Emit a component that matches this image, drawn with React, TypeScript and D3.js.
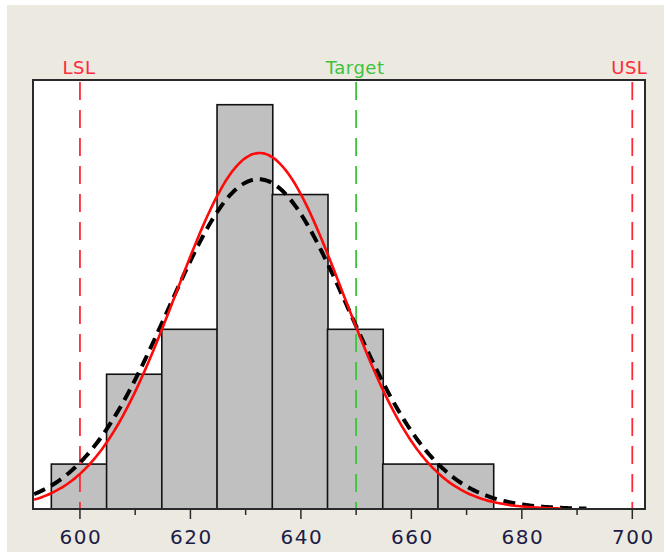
import React, { useRef, useEffect } from 'react';
import { select, scaleLinear, line, curveBasis, range } from 'd3';

const dim = {
  width: 664,
  height: 553,
  left: 33,
  right: 645,
  top: 80,
  bottom: 509,
};

// histogram bins (lower edge) and counts
const binStarts = [595, 605, 615, 625, 635, 645, 655, 665];
const binCounts = [1, 3, 4, 9, 7, 4, 1, 1];
const binWidth = 10;

// spec limits
const specNames = ['LSL', 'Target', 'USL'];
const specValues = [600, 650, 700];
const specColors = ['#ff2a3a', '#3cc23c', '#ff2a3a'];

// fitted normal curves: [mean, stdev, last x drawn]
const withinFit = [632.5, 15.1, 687.5];
const overallFit = [632.3, 16.3, 691.8];

const tickValues = [600, 610, 620, 630, 640, 650, 660, 670, 680, 690, 700];
const tickLabels = ['600', '620', '640', '660', '680', '700'];

const Chart = () => {
  const svgRef = useRef(null);

  useEffect(() => {
    const svg = select(svgRef.current);
    svg.selectAll('*').remove();

    const x = scaleLinear().domain([591.5, 702.3]).range([dim.left, dim.right]);
    const y = scaleLinear().domain([0, 9.55]).range([dim.bottom, dim.top]);
    const total = binCounts.reduce((a, b) => a + b, 0);

    svg.append('rect').attr('width', dim.width).attr('height', dim.height).attr('fill', '#fff');
    svg.append('rect')
      .attr('x', 7).attr('y', 5)
      .attr('width', dim.width - 7).attr('height', dim.height - 6)
      .attr('fill', '#ece9e0');
    svg.append('rect')
      .attr('x', dim.left).attr('y', dim.top)
      .attr('width', dim.right - dim.left).attr('height', dim.bottom - dim.top)
      .attr('fill', '#fff');

    svg.append('g').selectAll('rect')
      .data(binStarts)
      .join('rect')
      .attr('x', (d) => x(d) - 1)
      .attr('y', (_, i) => y(binCounts[i]))
      .attr('width', (d) => x(d + binWidth) - x(d) + 0.5)
      .attr('height', (_, i) => y(0) - y(binCounts[i]))
      .attr('fill', '#c0c0c0')
      .attr('stroke', '#111')
      .attr('stroke-width', 1.6);

    // spec lines
    const spec = svg.append('g');
    specValues.forEach((v, i) => {
      spec.append('line')
        .attr('x1', x(v)).attr('x2', x(v))
        .attr('y1', dim.top + 2).attr('y2', dim.bottom)
        .attr('stroke', specColors[i])
        .attr('stroke-width', 1.8)
        .attr('stroke-dasharray', '18 10');
      spec.append('text')
        .attr('x', x(v) + (i === 2 ? -3 : -1))
        .attr('y', 74)
        .attr('text-anchor', 'middle')
        .attr('fill', specColors[i])
        .style('font', '18px "DejaVu Sans", sans-serif')
        .style('letter-spacing', '0.5px')
        .text(specNames[i]);
    });

    const pdf = (v, m, s) => Math.exp(-0.5 * ((v - m) / s) ** 2) / (s * Math.sqrt(2 * Math.PI));
    const curve = line<number>().curve(curveBasis);
    const fitPath = (fit) =>
      curve(range(591.7, fit[2], 0.5).map((v) => [x(v), y(total * binWidth * pdf(v, fit[0], fit[1]))]) as any);

    const clip = svg.append('clipPath').attr('id', 'plotclip');
    clip.append('rect')
      .attr('x', dim.left).attr('y', dim.top)
      .attr('width', dim.right - dim.left).attr('height', dim.bottom - dim.top - 1);

    const curves = svg.append('g').attr('clip-path', 'url(#plotclip)');
    curves.append('path')
      .attr('d', fitPath(overallFit))
      .attr('fill', 'none')
      .attr('stroke', '#000')
      .attr('stroke-width', 4)
      .attr('stroke-dasharray', '12 7');
    curves.append('path')
      .attr('d', fitPath(withinFit))
      .attr('fill', 'none')
      .attr('stroke', '#ff0a0a')
      .attr('stroke-width', 2.6);

    // frame
    svg.append('rect')
      .attr('x', dim.left).attr('y', dim.top)
      .attr('width', dim.right - dim.left).attr('height', dim.bottom - dim.top)
      .attr('fill', 'none')
      .attr('stroke', '#2a2a2a')
      .attr('stroke-width', 2);

    const axis = svg.append('g');
    axis.selectAll('line')
      .data(tickValues)
      .join('line')
      .attr('x1', (d) => x(d)).attr('x2', (d) => x(d))
      .attr('y1', dim.bottom)
      .attr('y2', (d) => dim.bottom + (d % 20 === 0 ? 10 : 6))
      .attr('stroke', '#2a2a2a')
      .attr('stroke-width', 1.5);
    axis.selectAll('text')
      .data(tickLabels)
      .join('text')
      .attr('x', (d) => x(+d) + 1)
      .attr('y', 544)
      .attr('text-anchor', 'middle')
      .attr('fill', '#1c1c48')
      .style('font', '20px "DejaVu Sans", sans-serif')
      .style('letter-spacing', '1.5px')
      .text((d) => d);
  }, []);

  return (
    <div style={{ position: 'absolute', left: 0, top: 0 }}>
      <svg width={dim.width} height={dim.height} ref={svgRef} style={{ display: 'block' }} />
    </div>
  );
};

export default function App() {
  return <Chart />;
}
